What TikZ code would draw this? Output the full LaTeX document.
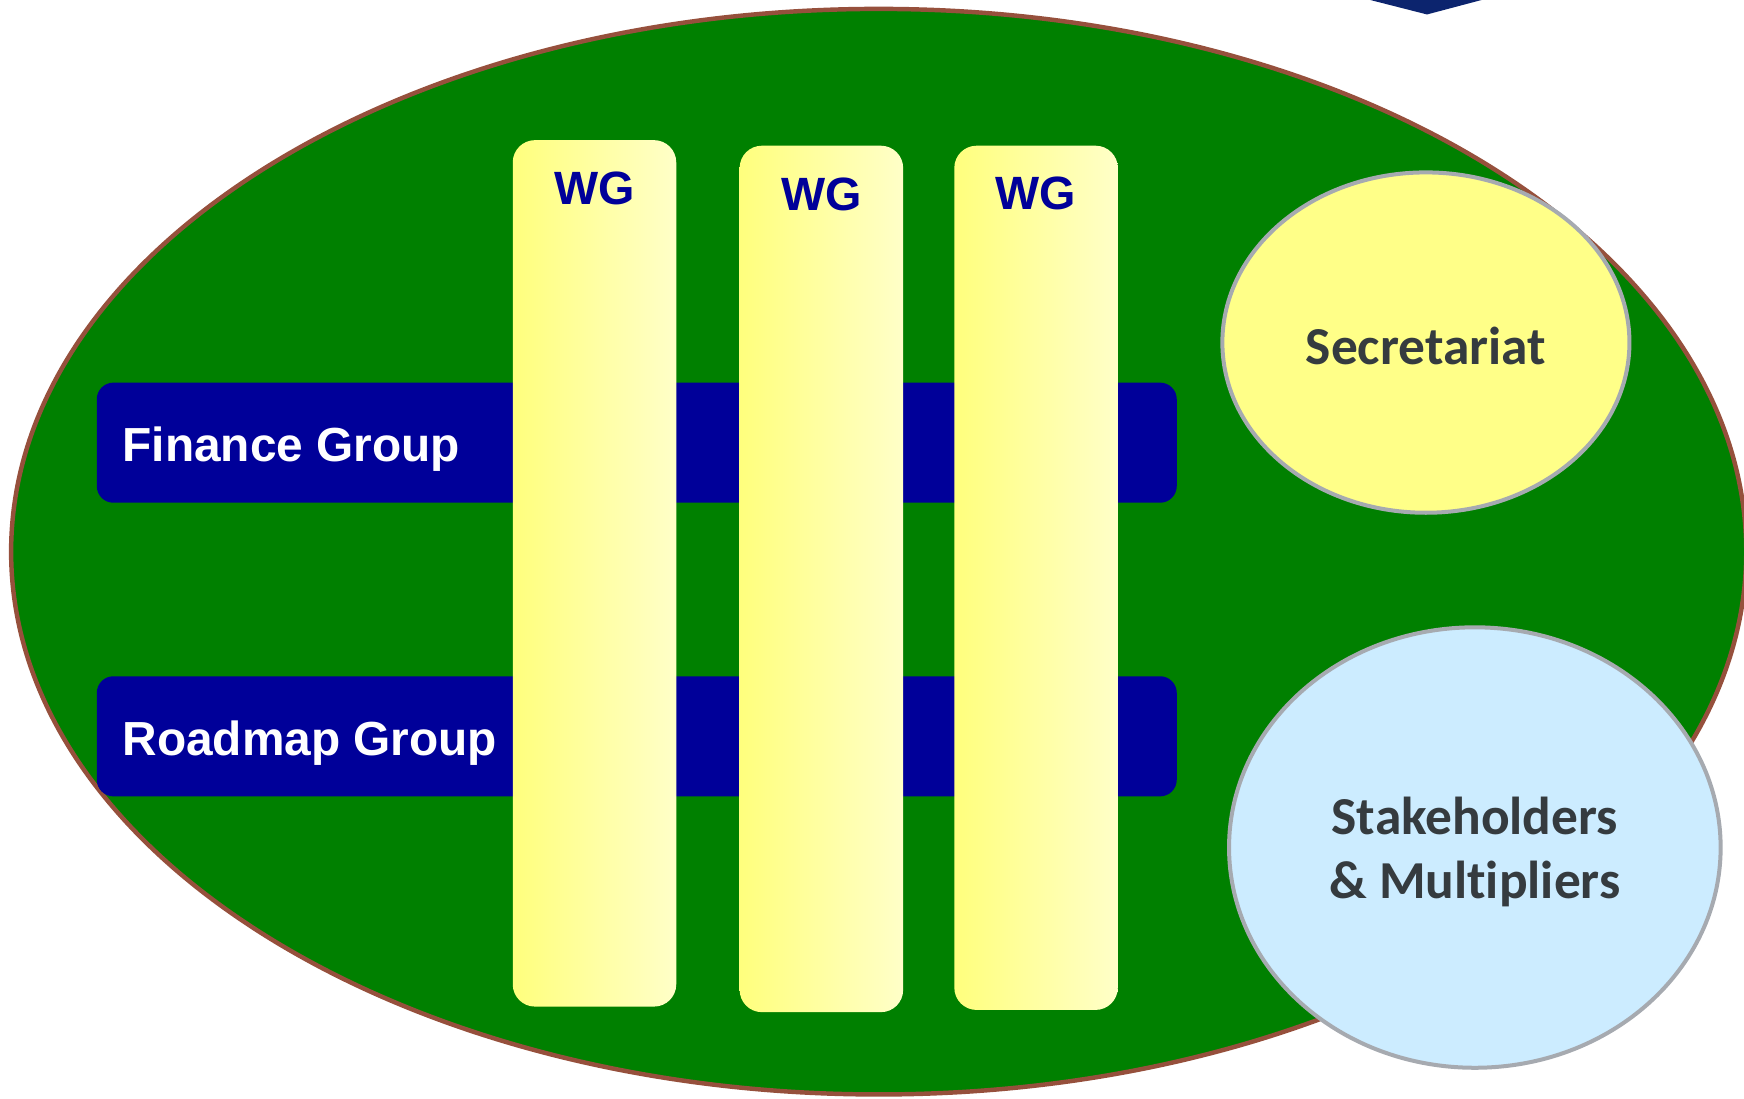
\documentclass[tikz,border=0pt]{standalone}
\usepackage{fontspec}
\setmainfont{Liberation Sans}
\newfontfamily\calib[Ligatures=NoCommon]{Carlito}
\usetikzlibrary{shapes.geometric}
\definecolor{bggreen}{RGB}{0,128,0}
\definecolor{rimbrown}{RGB}{150,80,60}
\definecolor{navy}{RGB}{0,0,153}
\definecolor{ylA}{RGB}{255,255,125}
\definecolor{ylB}{RGB}{255,255,200}
\definecolor{secfill}{RGB}{255,255,136}
\definecolor{stkfill}{RGB}{204,236,255}
\definecolor{rimgray}{RGB}{166,170,176}
\definecolor{txtgray}{RGB}{53,59,63}
\definecolor{logoblue}{RGB}{12,36,110}
\tikzset{
  groupbar/.style={fill=navy, rounded corners=15pt, minimum width=971pt, minimum height=108pt, inner sep=0pt},
  grouptext/.style={text=white, font=\fontsize{43}{50}\selectfont\bfseries, anchor=base west, inner sep=0pt},
  wgcol/.style={left color=ylA, right color=ylB, rounded corners=20pt, minimum width=147pt, inner sep=0pt},
  wgtext/.style={text=navy, font=\fontsize{42}{50}\selectfont\bfseries, anchor=base, inner sep=0pt},
  bubble/.style={ellipse, draw=rimgray, line width=3.6pt, inner sep=0pt},
  bubbletext/.style={text=txtgray, align=center, font=\calib\fontsize{48}{57}\selectfont\bfseries, inner sep=0pt}
}
\begin{document}
\begin{tikzpicture}[x=1pt,y=-1pt]
\useasboundingbox (0,0) rectangle (1568,988);
% logo fragment at top right
\fill[logoblue] (1232,0) -- (1332,0) -- (1283,13) -- cycle;
% main ellipse
\draw[fill=bggreen, draw=rimbrown, line width=4pt] (790,496) ellipse [x radius=780, y radius=488];
% horizontal groups
\node[groupbar] (fin) at (572.5,398) {};
\node[groupbar] (road) at (572.5,662) {};
\node[grouptext] (fintxt) at (110,415) {Finance Group};
\node[grouptext] (roadtxt) at (110,679) {Roadmap Group};
% working group columns
\node[wgcol, minimum height=779pt] (wg1) at (534.5,515.5) {};
\node[wgcol, minimum height=779pt] (wg2) at (738.5,520.5) {};
\node[wgcol, minimum height=777pt] (wg3) at (931.5,519.5) {};
\node[wgtext] (wg1t) at (535,184) {WG};
\node[wgtext] (wg2t) at (739,189) {WG};
\node[wgtext] (wg3t) at (931,188) {WG};
% bubbles
\node[bubble, fill=secfill, minimum width=366pt, minimum height=306pt] (sec) at (1282,308) {};
\node[bubbletext] (sectxt) at (1282,311) {Secretariat};
\node[bubble, fill=stkfill, minimum width=442pt, minimum height=396pt] (stk) at (1326,762) {};
\node[bubbletext] (stktxt) at (1326,766) {Stakeholders\\\& Multipliers};
\end{tikzpicture}
\end{document}
